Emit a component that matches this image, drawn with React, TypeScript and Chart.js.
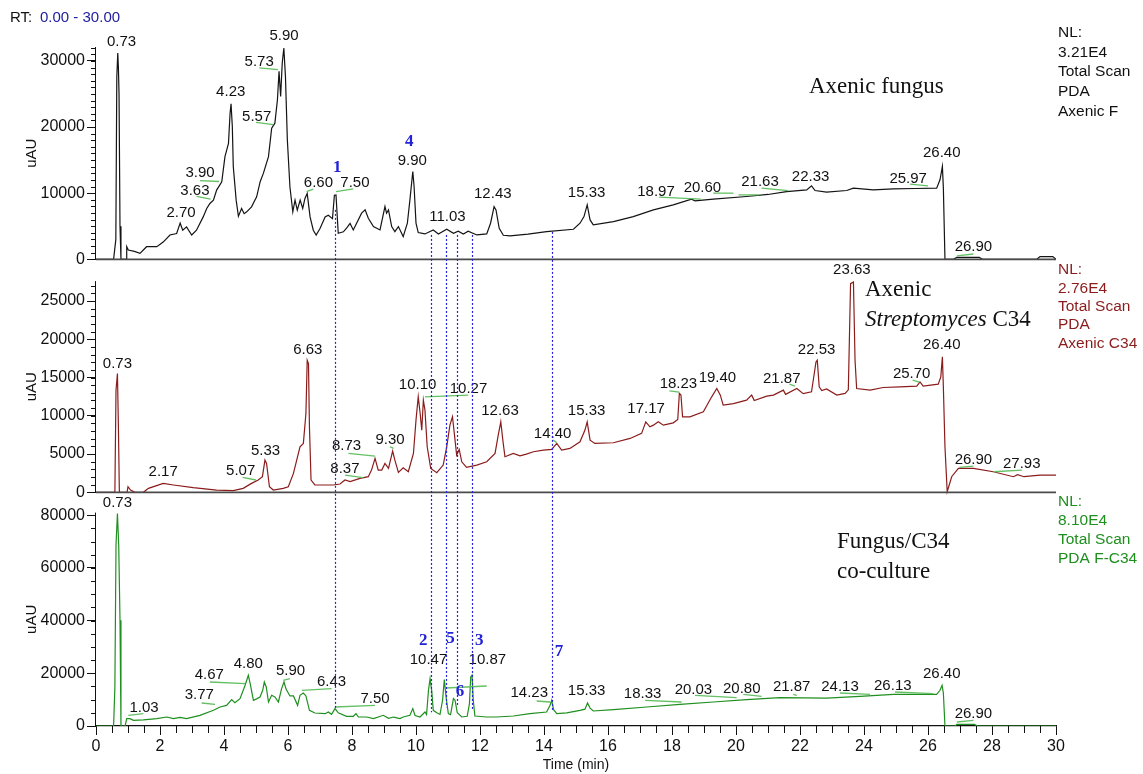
import { useEffect, useRef } from "react";
import { Chart, registerables } from "chart.js";

Chart.register(...registerables);

const SANS = "'Liberation Sans', Arial, sans-serif";
const SERIF = "'Liberation Serif', 'Times New Roman', serif";

// ---------- axes ----------
const timeTicks = [0, 2, 4, 6, 8, 10, 12, 14, 16, 18, 20, 22, 24, 26, 28, 30];
const fungusTicks = [0, 5000, 10000, 15000, 20000, 25000, 30000];
const c34Ticks = [0, 5000, 10000, 15000, 20000, 25000];
const cocultureTicks = [0, 20000, 40000, 60000, 80000];
const fungusNL = 32100;
const c34NL = 27600;
const cocultureNL = 81000;

// ---------- traces (time in min, signal in uAU) ----------
const fungusTime = [0, 0.55, 0.62, 0.65, 0.68, 0.7, 0.72, 0.75, 0.78, 0.94, 0.96, 1.01, 1.2, 1.375, 1.58, 1.9, 2.1, 2.31, 2.52, 2.63, 2.71, 2.83, 2.99, 3.14, 3.35, 3.46, 3.56, 3.67, 3.77, 3.93, 4.03, 4.14, 4.19, 4.22, 4.26, 4.29, 4.38, 4.45, 4.55, 4.63, 4.71, 4.86, 5.02, 5.13, 5.23, 5.39, 5.49, 5.59, 5.67, 5.72, 5.77, 5.82, 5.87, 5.92, 5.98, 6.06, 6.15, 6.22, 6.29, 6.38, 6.46, 6.53, 6.6, 6.69, 6.79, 6.88, 7.0, 7.16, 7.26, 7.39, 7.45, 7.5, 7.57, 7.73, 7.83, 7.94, 8.04, 8.3, 8.41, 8.51, 8.67, 8.875, 9.03, 9.08, 9.14, 9.24, 9.34, 9.45, 9.6, 9.73, 9.81, 9.9, 9.94, 10.0, 10.07, 10.28, 10.54, 10.7, 10.96, 11.17, 11.32, 11.48, 11.63, 11.9, 12.21, 12.33, 12.44, 12.5, 12.6, 12.73, 12.94, 13.5, 14.08, 14.92, 15.125, 15.25, 15.35, 15.44, 15.54, 16.17, 16.79, 17.42, 18.04, 18.61, 18.72, 19.29, 20.33, 21.0, 21.58, 22.21, 22.36, 22.47, 22.83, 23.46, 23.67, 24.29, 24.92, 25.6, 26.27, 26.375, 26.45, 26.48, 26.53, 26.8, 26.9, 27.6, 27.7, 29.4, 29.5, 29.9, 30];
const fungusUAU = [0, 0, 3000, 27500, 31200, 29000, 25000, 5000, 0, 0, 1900, 1400, 1200, 900, 1900, 1900, 2600, 3670, 3900, 5460, 4400, 4900, 3670, 4400, 6410, 7680, 8440, 8940, 10460, 11730, 15520, 17540, 22090, 23500, 20080, 14030, 8940, 6510, 7680, 6900, 7170, 7930, 9440, 11730, 12990, 15520, 19820, 20580, 24120, 28420, 24630, 29680, 31950, 27660, 18050, 10970, 7170, 8940, 7430, 8940, 7680, 9200, 9950, 6410, 4400, 3670, 4650, 6410, 6660, 6150, 9690, 9740, 3940, 4150, 4700, 5420, 4440, 6970, 7470, 6210, 4940, 4440, 7970, 6970, 7470, 4940, 4190, 4940, 3430, 5450, 8980, 13280, 11000, 5450, 4040, 3830, 4440, 3830, 4540, 3940, 4240, 3830, 4240, 3680, 3830, 5450, 7970, 7470, 4690, 3630, 3530, 3800, 4190, 4540, 5450, 6460, 8230, 5950, 5200, 5700, 6460, 7470, 8230, 9090, 8840, 9090, 9490, 9800, 10240, 10500, 11100, 10400, 10150, 10400, 10760, 10500, 10650, 10700, 10760, 12020, 14040, 10800, 0, 0, 300, 300, 0, 0, 400, 400, 0];

const c34Time = [0, 0.59, 0.625, 0.67, 0.7, 0.73, 0.97, 1.0, 1.08, 1.22, 1.48, 1.64, 2.1, 2.42, 3.04, 3.77, 4.29, 4.6, 4.86, 5.07, 5.2, 5.28, 5.33, 5.42, 5.54, 5.85, 6.01, 6.17, 6.375, 6.48, 6.56, 6.6, 6.64, 6.67, 6.72, 6.84, 7.1, 7.42, 7.625, 7.78, 7.94, 8.25, 8.51, 8.61, 8.72, 8.82, 8.93, 9.03, 9.14, 9.27, 9.34, 9.45, 9.6, 9.76, 9.92, 10.0, 10.07, 10.13, 10.18, 10.23, 10.28, 10.35, 10.46, 10.65, 10.85, 10.96, 11.06, 11.14, 11.22, 11.27, 11.35, 11.43, 11.58, 11.9, 12.21, 12.47, 12.57, 12.65, 12.72, 12.78, 13.04, 13.25, 13.45, 13.67, 13.98, 14.24, 14.4, 14.55, 14.81, 15.125, 15.28, 15.35, 15.44, 15.59, 16.17, 16.69, 17.05, 17.18, 17.31, 17.42, 17.57, 17.73, 18.04, 18.18, 18.23, 18.28, 18.33, 18.56, 18.98, 19.24, 19.4, 19.51, 19.6, 19.92, 20.33, 20.49, 20.57, 20.96, 21.17, 21.48, 21.55, 21.9, 22.1, 22.36, 22.5, 22.54, 22.6, 22.68, 22.83, 23.15, 23.41, 23.51, 23.58, 23.67, 23.72, 23.77, 24.19, 24.6, 25.125, 25.65, 25.75, 25.85, 26.32, 26.4, 26.45, 26.48, 26.53, 26.6, 26.74, 26.95, 27.42, 28.04, 28.67, 28.8, 29.0, 29.5, 30];
const c34UAU = [0, 0, 13350, 15520, 8560, 0, 0, 730, 300, 0, 0, 520, 1170, 960, 610, 300, 220, 520, 1170, 1610, 2040, 4210, 3780, 730, 300, 520, 730, 2480, 5950, 6390, 10300, 17260, 16830, 8560, 1610, 960, 960, 960, 1090, 1610, 1390, 1830, 2040, 2910, 4430, 2910, 2910, 3780, 3130, 5400, 4200, 2600, 3210, 2690, 5080, 9430, 12480, 10300, 8130, 12040, 10740, 5950, 3130, 2560, 3560, 5950, 8780, 9870, 6820, 4870, 5600, 3990, 3260, 3560, 3990, 5080, 7470, 9210, 6600, 4650, 5080, 4760, 5000, 5300, 5520, 5600, 6390, 5520, 5740, 6600, 8130, 9210, 6820, 6390, 6480, 7040, 7700, 9210, 8560, 8780, 9210, 8780, 9080, 9520, 12920, 12700, 9870, 9870, 10520, 12480, 13570, 12700, 11390, 11600, 12040, 12700, 12000, 12570, 12700, 13350, 12800, 13570, 12900, 13130, 17040, 17260, 13780, 13300, 13500, 12700, 12920, 13400, 27270, 27480, 17260, 13570, 13350, 13700, 13780, 13870, 14430, 13870, 14130, 15090, 17700, 13780, 5950, 80, 2040, 3130, 3130, 2690, 2040, 2300, 2040, 2260, 2260];

const cocultureTime = [0, 0.55, 0.59, 0.625, 0.67, 0.71, 0.75, 0.78, 0.91, 0.96, 1.06, 1.17, 1.48, 1.9, 2.21, 2.42, 2.625, 2.83, 3.25, 3.67, 3.875, 4.08, 4.24, 4.34, 4.5, 4.66, 4.76, 4.81, 4.92, 5.02, 5.125, 5.21, 5.26, 5.32, 5.39, 5.49, 5.59, 5.7, 5.8, 5.875, 5.94, 6.06, 6.17, 6.3, 6.375, 6.48, 6.56, 6.67, 6.84, 7.16, 7.26, 7.36, 7.47, 7.57, 7.83, 8.04, 8.125, 8.2, 8.46, 8.67, 8.98, 9.14, 9.3, 9.5, 9.6, 9.81, 9.9, 9.97, 10.125, 10.28, 10.33, 10.39, 10.44, 10.49, 10.54, 10.65, 10.75, 10.83, 10.885, 10.94, 11.01, 11.08, 11.17, 11.22, 11.29, 11.43, 11.6, 11.67, 11.71, 11.75, 11.79, 11.84, 12.21, 12.52, 13.04, 13.56, 14.08, 14.19, 14.24, 14.3, 14.4, 14.71, 15.125, 15.28, 15.36, 15.44, 15.54, 16.17, 17.21, 18.25, 19.29, 20.33, 21.375, 22.83, 23.875, 24.92, 26.27, 26.375, 26.44, 26.48, 26.53, 26.85, 26.9, 27.45, 27.55, 30];
const cocultureUAU = [0, 0, 14800, 68600, 80630, 68600, 40130, 0, 0, 2800, 2800, 2130, 2320, 2800, 3420, 2800, 3300, 2800, 4060, 5960, 7210, 7810, 10020, 8880, 10400, 15450, 19250, 16600, 9760, 10300, 11000, 13550, 16700, 14800, 9110, 11650, 11000, 9110, 14200, 16700, 14000, 11400, 11400, 7860, 11650, 12530, 11400, 5960, 4940, 4680, 5300, 4420, 6600, 5000, 3680, 3680, 4680, 3420, 3420, 2800, 4060, 2900, 3400, 2800, 3420, 4060, 6600, 4000, 3420, 5320, 4300, 13550, 18000, 13550, 5960, 5060, 4400, 9760, 17600, 11000, 4700, 4300, 10400, 9800, 5060, 3420, 3700, 8500, 18600, 19250, 9760, 3800, 3420, 3420, 3800, 4700, 5320, 7860, 9760, 6220, 4700, 5000, 5960, 6400, 8730, 6800, 5700, 6220, 7210, 8240, 9110, 10020, 10780, 10600, 11280, 12030, 12030, 13550, 15450, 12500, 0, 0, 600, 600, 0, 0];

// ---------- peak annotations (retention-time text, placed at time / uAU) ----------
const fungusPeakText = ["0.73", "2.70", "3.63", "3.90", "4.23", "5.57", "5.73", "5.90", "6.60", "7.50", "9.90", "11.03", "12.43", "15.33", "18.97", "20.60", "21.63", "22.33", "25.97", "26.40", "26.90"];
const fungusPeakTime = [0.8, 2.66, 3.09, 3.25, 4.21, 5.02, 5.1, 5.875, 6.95, 8.09, 9.885, 10.98, 12.4, 15.33, 17.5, 18.95, 20.75, 22.33, 25.38, 26.43, 27.42];
const fungusPeakLevel = [32820, 6970, 10390, 13030, 25390, 21600, 29850, 33730, 11600, 11600, 14940, 6460, 9890, 10000, 10240, 10850, 11760, 12520, 12170, 16060, 1820];
const fungusBaselines = [[3.25, 11900, 3.85, 11760], [3.14, 9500, 3.58, 9100], [5.0, 20700, 5.54, 20350], [5.1, 28940, 5.69, 28680], [6.58, 10240, 6.79, 10600], [7.5, 10240, 8.04, 10650], [17.6, 9390, 18.9, 9090], [19.29, 10000, 19.92, 10000], [20.08, 9740, 20.71, 9740], [20.8, 10760, 21.63, 10390], [25.44, 11360, 26.0, 11100], [26.9, 500, 27.42, 800]];

const c34PeakText = ["0.73", "2.17", "5.07", "5.33", "6.63", "8.37", "8.73", "9.30", "10.10", "10.27", "12.63", "14.40", "15.33", "17.17", "18.23", "19.40", "21.87", "22.53", "23.63", "25.70", "26.40", "26.90", "27.93"];
const c34PeakTime = [0.67, 2.1, 4.52, 5.3, 6.62, 7.78, 7.83, 9.19, 10.05, 11.64, 12.625, 14.27, 15.33, 17.19, 18.2, 19.42, 21.43, 22.52, 23.62, 25.49, 26.43, 27.42, 28.93];
const c34PeakLevel = [16830, 2690, 2820, 5430, 18660, 3130, 6040, 6910, 14000, 13570, 10650, 7610, 10650, 10870, 14220, 15000, 14870, 18570, 29100, 15530, 19220, 4210, 3780];
const c34Baselines = [[4.58, 1960, 5.0, 1610], [7.89, 5080, 8.72, 4740], [7.78, 2260, 8.35, 1910], [9.19, 5950, 9.3, 5740], [10.28, 12480, 11.63, 12700], [14.29, 6820, 14.4, 6470], [17.92, 13260, 18.23, 13090], [21.67, 14130, 21.84, 13870], [25.52, 14650, 25.73, 14390], [26.98, 3260, 27.42, 3430], [28.04, 2690, 28.93, 2910]];

const coculturePeakText = ["0.73", "1.03", "3.77", "4.67", "4.80", "5.90", "6.43", "7.50", "10.47", "10.87", "14.23", "15.33", "18.33", "20.03", "20.80", "21.87", "24.13", "26.13", "26.40", "26.90"];
const coculturePeakTime = [0.67, 1.5, 3.23, 3.54, 4.76, 6.08, 7.36, 8.72, 10.39, 12.23, 13.54, 15.33, 17.08, 18.67, 20.18, 21.74, 23.25, 24.9, 26.43, 27.42];
const coculturePeakLevel = [84660, 6980, 11650, 19250, 23690, 20880, 16700, 10140, 25200, 24940, 12530, 13290, 12300, 13820, 14200, 14800, 14800, 15070, 19890, 4440];
const cocultureBaselines = [[1.01, 4060, 1.48, 4700], [3.3, 8730, 3.72, 8240], [3.56, 16700, 4.66, 16100], [5.85, 17350, 6.06, 18000], [6.43, 13550, 7.36, 14200], [7.47, 7210, 8.72, 7860], [10.93, 14430, 12.21, 15190], [13.77, 9490, 14.19, 9110], [17.16, 9760, 18.3, 9110], [18.72, 11650, 20.02, 10780], [20.23, 12030, 20.8, 11280], [21.79, 12030, 21.9, 11650], [23.25, 12530, 24.19, 12030], [24.97, 12910, 26.17, 12300], [26.9, 1520, 27.42, 2160]];

// compound numbers (blue) and the dotted guides linking the panels
const fungusCompoundText = ["1", "4"];
const fungusCompoundTime = [7.54, 9.79];
const fungusCompoundLevel = [13790, 17820];
const cocultureCompoundText = ["2", "5", "3", "6", "7"];
const cocultureCompoundTime = [10.23, 11.08, 11.98, 11.375, 14.47];
const cocultureCompoundLevel = [32540, 33180, 32540, 12910, 28090];
const guideTime = [7.47, 10.46, 10.93, 11.27, 11.74, 14.26];
const guideTopLevel = [7470, 3680, 3680, 3680, 3680, 4140];
const guideBottomLevel = [6720, 5200, 7100, 7860, 5960, 5960];

const BLACK = "#141414";
const RED = "#8b1c1c";
const GREEN = "#1f8f1f";
const LEADER = "#63c063";
const BLUE = "#2222d8";

function pts(t: number[], v: number[]) {
  return t.map((x, i) => ({ x, y: v[i] }));
}

const overlayPlugin = {
  id: "overlay",
  afterDatasetsDraw(chart: any) {
    const ctx: CanvasRenderingContext2D = chart.ctx;
    const xs = chart.scales.x;
    const area = chart.chartArea;
    const panels = [
      { s: chart.scales.yF, max: fungusNL, minor: 1000, text: fungusPeakText, time: fungusPeakTime, level: fungusPeakLevel, leaders: fungusBaselines, base: true },
      { s: chart.scales.yC, max: c34NL, minor: 1000, text: c34PeakText, time: c34PeakTime, level: c34PeakLevel, leaders: c34Baselines, base: true },
      { s: chart.scales.yB, max: cocultureNL, minor: 5000, text: coculturePeakText, time: coculturePeakTime, level: coculturePeakLevel, leaders: cocultureBaselines, base: false },
    ];
    ctx.save();
    const x0 = area.left;
    // axes frames
    for (const p of panels) {
      const y0 = p.s.getPixelForValue(0);
      const yTop = p.s.getPixelForValue(p.max);
      ctx.strokeStyle = "#111";
      ctx.lineWidth = 1;
      ctx.beginPath();
      ctx.moveTo(x0 - 0.5, y0);
      ctx.lineTo(x0 - 0.5, yTop);
      ctx.stroke();
      ctx.beginPath();
      for (let v = p.minor; v <= p.max; v += p.minor) {
        const yy = Math.round(p.s.getPixelForValue(v)) + 0.5;
        ctx.moveTo(x0 - 5, yy);
        ctx.lineTo(x0, yy);
      }
      ctx.stroke();
      if (p.base) {
        ctx.strokeStyle = "#4a4a4a";
        ctx.lineWidth = 1.8;
        ctx.beginPath();
        ctx.moveTo(x0, y0);
        ctx.lineTo(area.right, y0);
        ctx.stroke();
      }
      // uAU titles
      ctx.save();
      ctx.translate(32, (y0 + yTop) / 2);
      ctx.rotate(-Math.PI / 2);
      ctx.fillStyle = "#111";
      ctx.font = `15px ${SANS}`;
      ctx.textAlign = "center";
      ctx.textBaseline = "middle";
      ctx.fillText("uAU", 0, 0);
      ctx.restore();
    }
    // x minor ticks
    ctx.strokeStyle = "#111";
    ctx.lineWidth = 1;
    ctx.beginPath();
    for (let t = 0.5; t < 30; t += 0.5) {
      if (t % 2 === 0) continue;
      const xx = Math.round(xs.getPixelForValue(t)) + 0.5;
      ctx.moveTo(xx, area.bottom);
      ctx.lineTo(xx, area.bottom + 7);
    }
    ctx.stroke();

    // leader lines and peak labels
    for (const p of panels) {
      ctx.strokeStyle = LEADER;
      ctx.lineWidth = 1.3;
      for (const L of p.leaders) {
        ctx.beginPath();
        ctx.moveTo(xs.getPixelForValue(L[0]), p.s.getPixelForValue(L[1]));
        ctx.lineTo(xs.getPixelForValue(L[2]), p.s.getPixelForValue(L[3]));
        ctx.stroke();
      }
      ctx.fillStyle = "#111";
      ctx.font = `15px ${SANS}`;
      ctx.textAlign = "center";
      ctx.textBaseline = "middle";
      p.text.forEach((txt, i) => {
        ctx.fillText(txt, xs.getPixelForValue(p.time[i]), p.s.getPixelForValue(p.level[i]));
      });
    }

    // dotted guides
    const yF = chart.scales.yF;
    const yB = chart.scales.yB;
    ctx.strokeStyle = BLUE;
    ctx.lineWidth = 1.2;
    ctx.setLineDash([2, 2]);
    guideTime.forEach((t, i) => {
      const xx = Math.round(xs.getPixelForValue(t)) + 0.5;
      ctx.beginPath();
      ctx.moveTo(xx, yF.getPixelForValue(guideTopLevel[i]));
      ctx.lineTo(xx, yB.getPixelForValue(guideBottomLevel[i]));
      ctx.stroke();
    });
    ctx.setLineDash([]);

    // compound numbers
    ctx.fillStyle = BLUE;
    ctx.font = `bold 17px ${SERIF}`;
    ctx.textAlign = "center";
    ctx.textBaseline = "middle";
    fungusCompoundText.forEach((txt, i) => ctx.fillText(txt, xs.getPixelForValue(fungusCompoundTime[i]), yF.getPixelForValue(fungusCompoundLevel[i])));
    cocultureCompoundText.forEach((txt, i) => ctx.fillText(txt, xs.getPixelForValue(cocultureCompoundTime[i]), yB.getPixelForValue(cocultureCompoundLevel[i])));

    // header
    ctx.textAlign = "left";
    ctx.font = `15px ${SANS}`;
    ctx.fillStyle = "#111";
    ctx.fillText("RT:", 10, 18);
    ctx.fillStyle = "#2020a0";
    ctx.fillText("0.00 - 30.00", 40, 18);

    // NL blocks
    const blocks = [
      { s: chart.scales.yF, max: fungusNL, color: "#111", lines: ["NL:", "3.21E4", "Total Scan", "PDA", "Axenic F"], start: -14, step: 19.6 },
      { s: chart.scales.yC, max: c34NL, color: RED, lines: ["NL:", "2.76E4", "Total Scan", "PDA", "Axenic C34"], start: -11, step: 18.3 },
      { s: chart.scales.yB, max: cocultureNL, color: GREEN, lines: ["NL:", "8.10E4", "Total Scan", "PDA F-C34"], start: -11, step: 19 },
    ];
    ctx.font = `15.5px ${SANS}`;
    for (const b of blocks) {
      const top = b.s.getPixelForValue(b.max);
      ctx.fillStyle = b.color;
      b.lines.forEach((ln, i) => ctx.fillText(ln, area.right + 2, top + b.start + i * b.step));
    }

    // panel titles
    ctx.fillStyle = "#111";
    ctx.textBaseline = "alphabetic";
    ctx.font = `23px ${SERIF}`;
    ctx.fillText("Axenic fungus", 809, 93);
    ctx.fillText("Axenic", 865, 296);
    ctx.font = `italic 23px ${SERIF}`;
    ctx.fillText("Streptomyces", 865, 326);
    const w = ctx.measureText("Streptomyces ").width;
    ctx.font = `23px ${SERIF}`;
    ctx.fillText("C34", 865 + w, 326);
    ctx.fillText("Fungus/C34", 837, 548);
    ctx.fillText("co-culture", 837, 578);
    ctx.restore();
  },
};

function yScale(ticks: number[], min: number, max: number, weight: number, stackWeight: number) {
  return {
    type: "linear" as const,
    position: "left" as const,
    stack: "panels",
    stackWeight,
    weight,
    min,
    max,
    afterBuildTicks: (s: any) => {
      s.ticks = ticks.map((v) => ({ value: v }));
    },
    afterFit: (s: any) => {
      s.width = 96;
    },
    grid: { drawOnChartArea: false, drawTicks: true, tickLength: 9, color: "#111", tickColor: "#111" },
    border: { display: false },
    ticks: { color: "#111", font: { size: 16, family: SANS }, padding: 2, callback: (v: any) => String(v) },
  };
}

export default function App() {
  const ref = useRef<HTMLCanvasElement>(null);
  useEffect(() => {
    if (!ref.current) return;
    Chart.defaults.font.family = SANS;
    const chart = new Chart(ref.current, {
      type: "line",
      data: {
        datasets: [
          { label: "Axenic fungus", data: pts(fungusTime, fungusUAU), yAxisID: "yF", xAxisID: "x", borderColor: BLACK, borderWidth: 1.2, pointRadius: 0, tension: 0, fill: false },
          { label: "Axenic C34", data: pts(c34Time, c34UAU), yAxisID: "yC", xAxisID: "x", borderColor: RED, borderWidth: 1.2, pointRadius: 0, tension: 0, fill: false },
          { label: "F-C34", data: pts(cocultureTime, cocultureUAU), yAxisID: "yB", xAxisID: "x", borderColor: GREEN, borderWidth: 1.2, pointRadius: 0, tension: 0, fill: false },
        ],
      },
      options: {
        responsive: false,
        animation: false,
        devicePixelRatio: 1,
        layout: { padding: { left: 0, right: 87, top: 47, bottom: 0 } },
        plugins: { legend: { display: false }, tooltip: { enabled: false } },
        scales: {
          x: {
            type: "linear",
            position: "bottom",
            min: 0,
            max: 30,
            afterBuildTicks: (s: any) => {
              s.ticks = timeTicks.map((v) => ({ value: v }));
            },
            afterFit: (s: any) => {
              s.height = 48;
            },
            grid: { drawOnChartArea: false, drawTicks: true, tickLength: 9, color: "#111", tickColor: "#111" },
            border: { display: true, color: "#111", width: 1.2 },
            ticks: { color: "#111", font: { size: 16, family: SANS }, padding: 2, maxRotation: 0, autoSkip: false, callback: (v: any) => String(v) },
            title: { display: true, text: "Time (min)", color: "#111", font: { size: 14, family: SANS }, padding: { top: 0, bottom: 0 } },
          },
          yF: yScale(fungusTicks, -3300, fungusNL, 3, 234),
          yC: yScale(c34Ticks, -2650, c34NL, 2, 231.4),
          yB: yScale(cocultureTicks, 0, cocultureNL, 1, 213.3),
        } as any,
      },
      plugins: [overlayPlugin],
    });
    return () => chart.destroy();
  }, []);
  return (
    <div style={{ position: "fixed", left: 0, top: 0, width: 1143, height: 774, background: "#fff" }}>
      <canvas ref={ref} width={1143} height={774} style={{ display: "block" }} />
    </div>
  );
}
